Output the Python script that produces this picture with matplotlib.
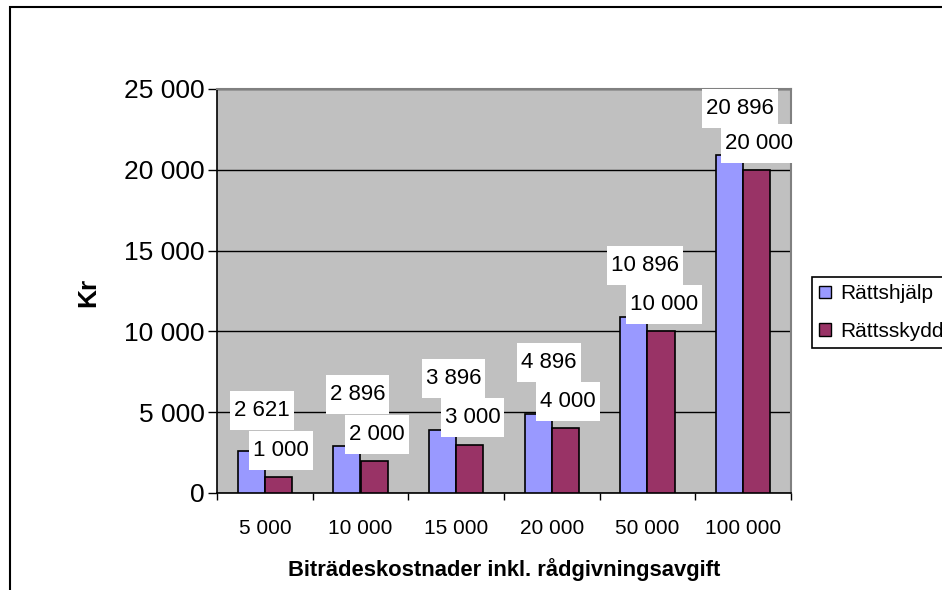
import matplotlib
matplotlib.use('Agg')
import matplotlib.pyplot as plt
from matplotlib.patches import Patch, Rectangle

plt.rcParams['font.family'] = ['Liberation Sans', 'DejaVu Sans']

kostnader = ['5 000', '10 000', '15 000', '20 000', '50 000', '100 000']
rattshjalp = [2621, 2896, 3896, 4896, 10896, 20896]
rattsskydd = [1000, 2000, 3000, 4000, 10000, 20000]
y_ticks = [0, 5000, 10000, 15000, 20000, 25000]
serier = ['Rättshjälp', 'Rättsskydd']

BLA = '#9999FF'
ROD = '#993366'


def kr(v):
    return f'{v:,}'.replace(',', ' ')


fig = plt.figure(figsize=(9.42, 5.90), dpi=100)
ax = fig.add_axes([217 / 942, 97 / 590, 574 / 942, 404 / 590])
ax.set_facecolor('#C0C0C0')

bw = 1 / 3.5
mitt = [i + 0.5 for i in range(len(kostnader))]
x1 = [c - bw / 2 for c in mitt]
x2 = [c + bw / 2 for c in mitt]
ax.bar(x1, rattshjalp, bw, color=BLA, edgecolor='black', lw=1.2, zorder=3)
ax.bar(x2, rattsskydd, bw, color=ROD, edgecolor='black', lw=1.2, zorder=3)

ax.set_xlim(0, len(kostnader))
ax.set_ylim(y_ticks[0], y_ticks[-1])
ax.set_yticks(y_ticks)
ax.set_yticklabels([kr(v) for v in y_ticks])
ax.set_xticks(range(len(kostnader) + 1))
ax.set_xticklabels([])
ax.set_xticks(mitt, minor=True)
ax.set_xticklabels(kostnader, minor=True)
ax.tick_params(axis='y', length=6.5, width=1, pad=2.5, labelsize=19)
ax.tick_params(axis='x', which='major', length=5, width=1)
ax.tick_params(axis='x', which='minor', length=0, pad=19, labelsize=15)
ax.set_axisbelow(True)
ax.yaxis.grid(True, color='black', lw=1)

for s in ['left', 'bottom']:
    ax.spines[s].set_color('black')
    ax.spines[s].set_linewidth(1.2)
for s in ['top', 'right']:
    ax.spines[s].set_color('#808080')
    ax.spines[s].set_linewidth(1.5)

# data labels: red ones sit just above the bar, blue ones stack above the red label
texter = []
for i in range(len(kostnader)):
    y_rod = rattsskydd[i] + 1650
    y_bla = max(rattshjalp[i] + 1650, y_rod + 2450)
    y_bla = min(y_bla, y_ticks[-1] - 1200)
    texter.append(ax.text(mitt[i] - 0.03, y_bla, kr(rattshjalp[i]), ha='center', va='center',
                          fontsize=16, zorder=6))
    texter.append(ax.text(mitt[i] + 0.17, y_rod, kr(rattsskydd[i]), ha='center', va='center',
                          fontsize=16, zorder=6))

fig.canvas.draw()
r = fig.canvas.get_renderer()
inv = ax.transData.inverted()
for t in texter:
    bb = t.get_window_extent(r)
    cy = (bb.y0 + bb.y1) / 2
    (x0, y0) = inv.transform((bb.x0 - 4, cy - 19.5))
    (x1_, y1_) = inv.transform((bb.x1 + 4, cy + 19.5))
    ax.add_patch(Rectangle((x0, y0), x1_ - x0, y1_ - y0, fc='white', ec='none',
                           zorder=5, clip_on=False))

fig.text(88 / 942, 1 - 292 / 590, 'Kr', rotation=90, fontsize=19, fontweight='bold',
         ha='center', va='center')
fig.text(504.5 / 942, 1 - 570 / 590, 'Biträdeskostnader inkl. rådgivningsavgift',
         fontsize=15.8, fontweight='bold', ha='center', va='center')

handles = [Patch(fc=BLA, ec='black'), Patch(fc=ROD, ec='black')]
leg = fig.legend(handles, serier, loc='upper left', bbox_to_anchor=(812 / 942, 1 - 277 / 590),
                 fontsize=15, frameon=True, fancybox=False, edgecolor='black', framealpha=1,
                 borderpad=0.35, labelspacing=0.9, handlelength=0.55, handleheight=0.55,
                 handletextpad=0.45, borderaxespad=0)
leg.get_frame().set_linewidth(1.2)

fig.add_artist(Rectangle((10 / 942, -0.5), 2, 1.5 - 7 / 590, transform=fig.transFigure,
                         fill=False, ec='black', lw=1.5))

plt.savefig('out.png')
